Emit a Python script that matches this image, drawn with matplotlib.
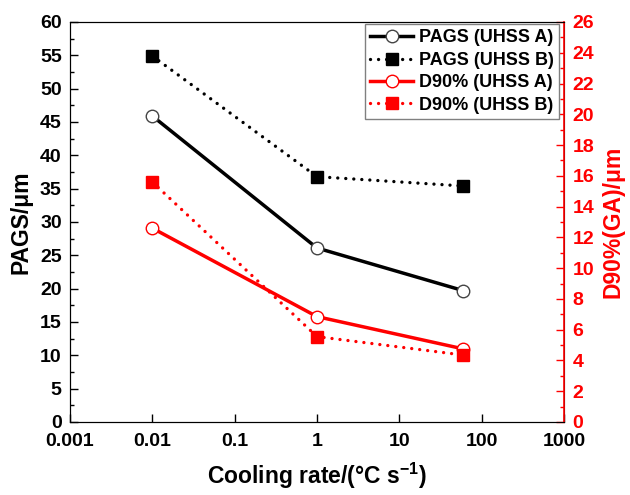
import numpy as np
import matplotlib
matplotlib.use("Agg")
import matplotlib.pyplot as plt
from matplotlib.ticker import MultipleLocator, FixedLocator, FixedFormatter

plt.rcParams['font.family'] = ['Liberation Sans', 'DejaVu Sans']
plt.rcParams['font.weight'] = 'bold'
plt.rcParams['mathtext.fontset'] = 'custom'
plt.rcParams['mathtext.rm'] = 'Liberation Sans:bold'
plt.rcParams['mathtext.bf'] = 'Liberation Sans:bold'

# data
cooling_rate = [0.01, 1, 60]
pags_a = [45.9, 26.1, 19.7]
pags_b = [54.9, 36.8, 35.4]
d90_a = [12.6, 6.85, 4.75]
d90_b = [15.6, 5.55, 4.35]

xticks = [0.001, 0.01, 0.1, 1, 10, 100, 1000]
xtick_labels = ['0.001', '0.01', '0.1', '1', '10', '100', '1000']

fig = plt.figure(figsize=(6.3, 4.95), dpi=100)
ax = fig.add_axes([70 / 630, 1 - 422 / 495, 494 / 630, 400 / 495])
ax2 = ax.twinx()

dots = (0, (0.01, 2.4))
l1, = ax.plot(cooling_rate, pags_a, '-', color='black', lw=2.5, marker='o', ms=9,
              mfc='white', mec='#444444', mew=1, label='PAGS (UHSS A)')
l2, = ax.plot(cooling_rate, pags_b, linestyle=dots, color='black', lw=2.4, marker='s',
              ms=8, mfc='black', mec='black', label='PAGS (UHSS B)', dash_capstyle='round')
l3, = ax2.plot(cooling_rate, d90_a, '-', color='red', lw=2.5, marker='o', ms=9,
               mfc='white', mec='red', mew=1, label='D90% (UHSS A)')
l4, = ax2.plot(cooling_rate, d90_b, linestyle=dots, color='red', lw=2.4, marker='s',
               ms=8, mfc='red', mec='red', label='D90% (UHSS B)', dash_capstyle='round')

ax.set_xscale('log')
ax.set_xlim(0.001, 1000)
ax.xaxis.set_major_locator(FixedLocator(xticks))
ax.xaxis.set_major_formatter(FixedFormatter(xtick_labels))
ax.xaxis.set_minor_locator(FixedLocator([]))

ax.set_ylim(0, 60)
ax.yaxis.set_major_locator(MultipleLocator(5))
ax.yaxis.set_minor_locator(MultipleLocator(2.5))
ax2.set_ylim(0, 26)
ax2.yaxis.set_major_locator(MultipleLocator(2))
ax2.yaxis.set_minor_locator(MultipleLocator(1))

ax.tick_params(axis='x', which='major', direction='in', length=6, width=1,
               labelsize=14, pad=8, top=False)
ax.tick_params(axis='y', which='major', direction='in', length=6, width=1,
               labelsize=14, pad=6)
ax.tick_params(axis='y', which='minor', direction='in', length=3, width=1)
ax2.tick_params(axis='y', which='major', direction='in', length=6, width=1,
                labelsize=14, pad=6, colors='red')
ax2.tick_params(axis='y', which='minor', direction='in', length=3, width=1, colors='red')
for lab in ax.get_xticklabels() + ax.get_yticklabels() + ax2.get_yticklabels():
    lab.set_fontweight('bold')

ax2.spines['right'].set_color('red')
ax2.spines['right'].set_linewidth(1.2)

ax.set_xlabel(r'Cooling rate/(°C s$^{\mathbf{-1}}$)', fontsize=16.5, fontweight='bold', labelpad=8)
ax.set_ylabel('PAGS/μm', fontsize=16.5, fontweight='bold', labelpad=5)
ax2.set_ylabel('D90%(GA)/μm', fontsize=16.5, fontweight='bold', color='red', labelpad=5)

leg = ax2.legend(handles=[l1, l2, l3, l4], loc='upper right', bbox_to_anchor=(0.99, 0.995),
                 fontsize=13, frameon=True, fancybox=False, framealpha=1, edgecolor='gray',
                 handlelength=2.4, handletextpad=0.3, labelspacing=0.3, borderpad=0.3,
                 borderaxespad=0)
leg.get_frame().set_linewidth(1)
for t in leg.get_texts():
    t.set_fontweight('bold')

fig.savefig('out.png', dpi=100)
